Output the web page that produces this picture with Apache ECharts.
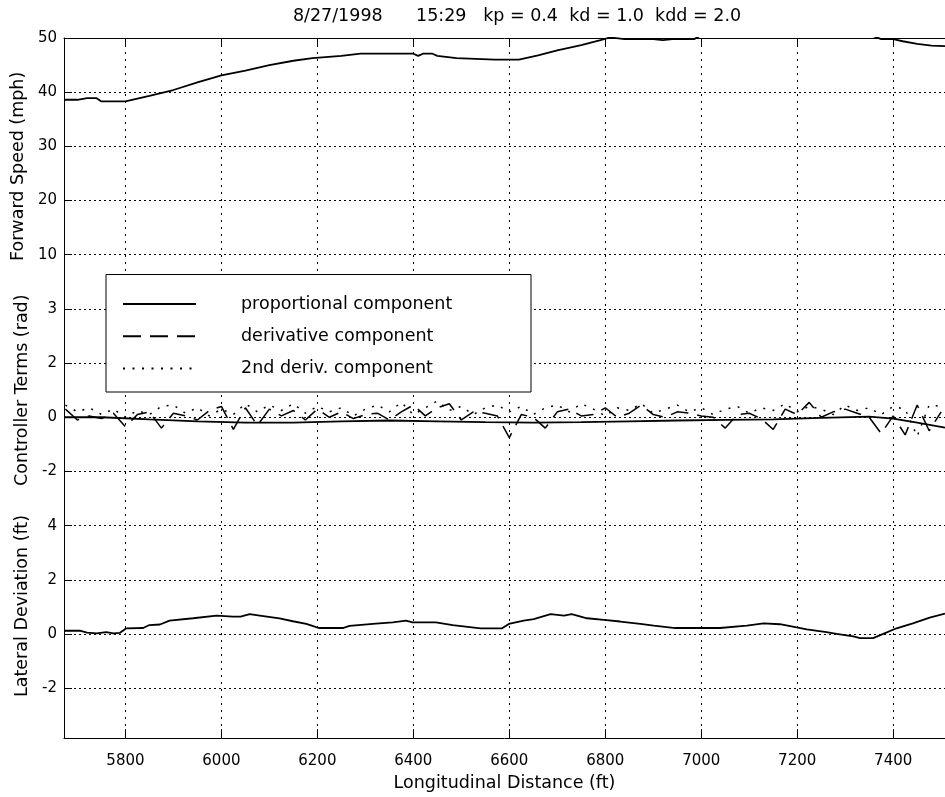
<!DOCTYPE html>
<html><head><meta charset="utf-8">
<script src="https://cdn.jsdelivr.net/npm/echarts@6/dist/echarts.min.js"></script>
<style>html,body{margin:0;padding:0;background:#fff}#c{width:945px;height:797px}</style>
</head><body><div id="c"></div>
<script>
// ---------------- data ----------------
const titleText = '8/27/1998      15:29   kp = 0.4  kd = 1.0  kdd = 2.0';
const xName = 'Longitudinal Distance (ft)';
const xRange = [5672, 7508];
const xTicks = [5800, 6000, 6200, 6400, 6600, 6800, 7000, 7200, 7400];

const speedName = 'Forward Speed (mph)';
const speedTicks = [10, 20, 30, 40, 50];
const speedX = [5672,5700,5720,5740,5750,5800,5850,5900,5950,6000,6050,6100,6150,6190,6250,6290,6400,6410,6420,6440,6450,6490,6570,6620,6660,6700,6750,6790,6810,6840,6900,6920,6940,6985,7000,7100,7300,7360,7375,7400,7420,7450,7480,7508];
const speedY = [38.6,38.6,38.9,38.9,38.3,38.3,39.3,40.4,41.8,43.1,44.0,45.0,45.8,46.3,46.7,47.1,47.1,46.7,47.1,47.1,46.7,46.3,46.0,46.0,46.8,47.7,48.7,49.6,50.1,49.8,49.8,49.6,49.8,49.8,50.5,51.0,51.0,50.3,49.8,49.8,49.4,48.9,48.6,48.5];

const ctrlName = 'Controller Terms (rad)';
const ctrlTickValues = [-2, 0, 2, 4];
const ctrlTickLabels = ['-2', '0', '2', '3'];
const seriesNames = ['proportional component', 'derivative component', '2nd deriv. component'];
const propX = [5672,5750,5850,5950,6050,6150,6250,6350,6450,6550,6650,6750,6850,6950,7050,7150,7250,7350,7400,7450,7508];
const propY = [0.0,0.0,-0.08,-0.15,-0.2,-0.2,-0.15,-0.12,-0.15,-0.18,-0.2,-0.18,-0.15,-0.12,-0.1,-0.08,-0.02,0.02,-0.05,-0.2,-0.38];
const ctrlX = [5675,5700,5725,5750,5775,5800,5825,5850,5875,5900,5925,5950,5975,6000,6025,6050,6075,6100,6125,6150,6175,6200,6225,6250,6275,6300,6325,6350,6375,6400,6425,6450,6475,6500,6525,6550,6575,6600,6625,6650,6675,6700,6725,6750,6775,6800,6825,6850,6875,6900,6925,6950,6975,7000,7025,7050,7075,7100,7125,7150,7175,7200,7225,7250,7275,7300,7325,7350,7375,7400,7425,7450,7475,7500];
const derivY = [0.3,-0.1,0.05,-0.05,0.15,-0.35,0.1,0.2,-0.4,0.15,0.05,-0.1,0.25,0.4,-0.45,0.35,-0.3,0.3,0.05,0.25,-0.1,0.3,0.0,0.2,-0.05,0.1,0.15,-0.1,0.2,0.45,0.05,0.35,0.5,-0.1,0.2,0.15,0.05,-0.75,0.1,0.0,-0.4,0.2,0.3,0.05,0.1,0.35,0.0,0.15,0.45,0.1,0.0,0.2,0.15,0.05,0.0,-0.4,0.1,0.15,-0.05,-0.45,0.3,0.1,0.55,0.0,0.2,0.3,0.15,0.0,-0.6,0.05,-0.65,0.45,-0.5,0.2];
const deriv2Y = [0.45,0.2,0.35,0.1,0.3,0.0,0.25,0.1,0.4,0.45,0.15,0.35,0.05,0.3,0.1,0.5,0.2,0.45,0.25,0.5,0.15,0.4,0.2,0.35,0.05,0.3,0.45,0.2,0.55,0.1,0.35,0.6,0.25,0.4,0.1,0.35,0.45,0.2,0.4,0.1,0.35,0.45,0.2,0.5,0.3,0.05,0.35,0.25,0.5,0.15,0.3,0.45,0.2,0.35,0.1,0.3,0.4,0.15,0.35,0.25,0.5,0.2,0.4,0.3,0.1,0.45,0.25,0.35,0.1,0.4,0.3,-0.7,0.45,0.4];

const latName = 'Lateral Deviation (ft)';
const latTicks = [-4, -2, 0, 2, 4];
const latTickLabels = ['', '-2', '0', '2', '4'];
const latX = [5672,5705,5720,5740,5760,5775,5788,5802,5837,5850,5872,5892,5941,5990,6024,6040,6059,6080,6121,6149,6177,6204,6253,6267,6322,6357,6385,6398,6447,6482,6540,6585,6599,6630,6651,6686,6714,6730,6762,6797,6831,6873,6901,6946,7039,7095,7130,7164,7220,7261,7282,7317,7331,7358,7372,7407,7441,7476,7508];
const latY = [0.12,0.12,0.05,0.02,0.07,0.02,0.04,0.21,0.22,0.33,0.35,0.49,0.58,0.68,0.64,0.64,0.73,0.68,0.58,0.47,0.37,0.22,0.22,0.30,0.38,0.43,0.49,0.43,0.43,0.33,0.21,0.21,0.37,0.49,0.55,0.73,0.68,0.73,0.58,0.52,0.46,0.37,0.31,0.22,0.22,0.31,0.39,0.36,0.17,0.07,0.0,-0.09,-0.15,-0.15,-0.05,0.21,0.39,0.6,0.75];

// ---------------- layout / style ----------------
const FONT = 'DejaVu Sans';
const BIG = 17.5;
const L = 64, T = 38, W = 883, U = 54.18;
const zip = (xs, ys) => xs.map((x, i) => [x, ys[i]]);
const dotH = [2, 3], dotV = [2, 5];
const frameLine = {show: true, lineStyle: {color: '#000', width: 1}};

function panelY(grid, min, max, interval, name, fmt, namePad, tickVals, labelVals) {
  return {
    gridIndex: grid, type: 'value', min, max, interval,
    axisLine: {show: false},
    axisTick: {show: true, inside: true, length: 8, customValues: tickVals, lineStyle: {color: '#000'}},
    axisLabel: {color: '#000', fontSize: 15, fontFamily: FONT, margin: 7, formatter: fmt, customValues: labelVals},
    splitLine: {show: true, lineStyle: {color: '#000', type: dotH, width: 1}},
    name, nameLocation: 'middle', nameGap: 32,
    nameTextStyle: {color: '#000', fontSize: BIG, fontFamily: FONT, padding: namePad}
  };
}
function hiddenX(grid) {
  return {gridIndex: grid, type: 'value', min: xRange[0], max: xRange[1], show: false, splitLine: {show: false}};
}

const chart = echarts.init(document.getElementById('c'), null, {renderer: 'canvas'});
chart.setOption({
  animation: false,
  backgroundColor: '#fff',
  title: {text: titleText, left: 512, top: 2, textAlign: 'center',
          textStyle: {fontSize: BIG, fontWeight: 'normal', color: '#000', fontFamily: FONT}},
  grid: [
    {left: L, top: T, width: W, height: 13 * U},
    {left: L, top: T, width: W, height: 4 * U},
    {left: L, top: T + 5 * U, width: W, height: 3 * U},
    {left: L, top: T + 9 * U, width: W, height: 4 * U}
  ],
  xAxis: [
    {gridIndex: 0, type: 'value', position: 'bottom', min: xRange[0], max: xRange[1],
     axisLine: frameLine,
     axisTick: {show: true, inside: true, length: 9, customValues: xTicks, lineStyle: {color: '#000'}},
     axisLabel: {customValues: xTicks, color: '#000', fontSize: 15, fontFamily: FONT, margin: 16, formatter: v => String(v)},
     splitLine: {show: true, lineStyle: {color: '#000', type: dotV, width: 1}},
     name: xName, nameLocation: 'middle', nameGap: 35,
     nameTextStyle: {color: '#000', fontSize: BIG, fontFamily: FONT}},
    {gridIndex: 0, type: 'value', position: 'top', min: xRange[0], max: xRange[1],
     axisLine: frameLine,
     axisTick: {show: true, inside: true, length: 9, customValues: xTicks, lineStyle: {color: '#000'}},
     axisLabel: {show: false}, splitLine: {show: false}},
    hiddenX(1), hiddenX(2), hiddenX(3)
  ],
  yAxis: [
    {gridIndex: 0, type: 'value', min: 0, max: 1, position: 'left',
     axisLine: frameLine, axisTick: {show: false}, axisLabel: {show: false}, splitLine: {show: false}},
    panelY(1, 10, 50, 10, speedName, v => String(v), [0, 40, 0, 0], [10, 20, 30, 40], speedTicks),
    panelY(2, -2, 4, 2, ctrlName, v => ctrlTickLabels[ctrlTickValues.indexOf(v)], 0, ctrlTickValues, ctrlTickValues),
    panelY(3, -4, 4, 2, latName, v => latTickLabels[latTicks.indexOf(v)], [0, 0, 0, 56], [-2, 0, 2, 4], latTicks)
  ],
  legend: {
    data: seriesNames, orient: 'vertical', left: 122, top: 295, padding: 0,
    itemWidth: 73, itemHeight: 14, itemGap: 14.2, selectedMode: false, z: 30,
    itemStyle: {opacity: 0},
    formatter: n => '{t|' + n + '}',
    textStyle: {color: '#000', fontSize: BIG, fontFamily: FONT,
      rich: {t: {padding: [0, 0, 0, 40], color: '#000', fontSize: BIG, fontFamily: FONT}}}
  },
  graphic: [{type: 'rect', z: 20, shape: {x: 106, y: 274.5, width: 425, height: 117.5},
             style: {fill: '#fff', stroke: '#000', lineWidth: 1}}],
  series: [
    {name: speedName, type: 'line', xAxisIndex: 2, yAxisIndex: 1, data: zip(speedX, speedY),
     symbol: 'none', clip: true, lineStyle: {color: '#000', width: 1.8}},
    {name: seriesNames[0], type: 'line', xAxisIndex: 3, yAxisIndex: 2, data: zip(propX, propY),
     symbol: 'none', clip: true, color: '#000', lineStyle: {color: '#000', width: 1.8, type: 'solid'}},
    {name: seriesNames[1], type: 'line', xAxisIndex: 3, yAxisIndex: 2, data: zip(ctrlX, derivY),
     symbol: 'none', clip: true, color: '#000', lineStyle: {color: '#000', width: 1.5, type: [18, 9]}},
    {name: seriesNames[2], type: 'line', xAxisIndex: 3, yAxisIndex: 2, data: zip(ctrlX, deriv2Y),
     symbol: 'none', clip: true, color: '#000', lineStyle: {color: '#000', width: 1.5, type: [2, 7.5]}},
    {name: latName, type: 'line', xAxisIndex: 4, yAxisIndex: 3, data: zip(latX, latY),
     symbol: 'none', clip: true, lineStyle: {color: '#000', width: 1.8}}
  ]
});
</script>
</body></html>
